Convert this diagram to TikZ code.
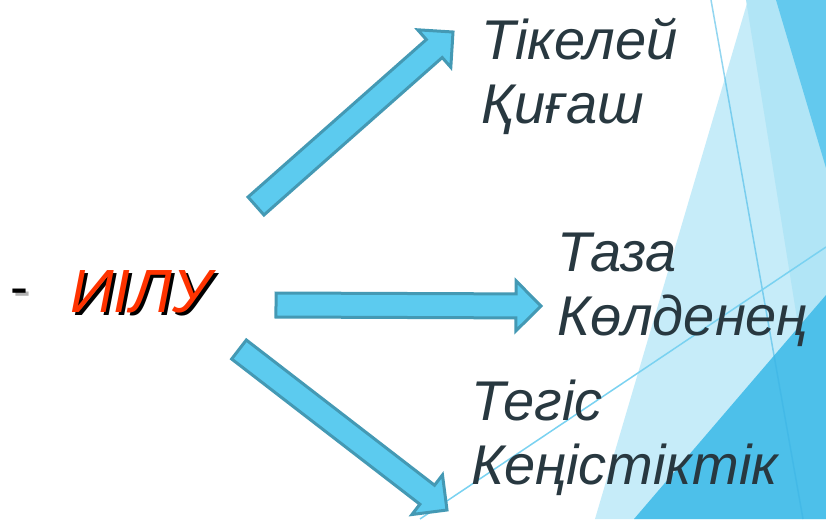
\documentclass[tikz,border=0pt]{standalone}
\usepackage{fontspec}
\setmainfont{Liberation Sans}
\usetikzlibrary{calc}

\definecolor{palefacet}{HTML}{C6ECF9}
\definecolor{lightfacet}{HTML}{B1E5F6}
\definecolor{midfacet}{HTML}{63C9EE}
\definecolor{deepfacet}{HTML}{4DC0EA}
\definecolor{thinfacet}{HTML}{7AD2F1}
\definecolor{linefacet}{HTML}{3BB5E5}
\definecolor{arrowfill}{HTML}{5CCBEF}
\definecolor{arrowedge}{HTML}{4499B4}
\definecolor{labeltext}{HTML}{283840}
\definecolor{titlered}{HTML}{FF3300}

% block arrow from tail coordinate #1 to tip coordinate #2
\newcommand\blockarrow[2]{%
  \coordinate (#2-base) at ($(#2)!25pt!(#1)$);
  \draw[arrowbody]
    ($(#1)!12pt!90:(#2)$) -- ($(#2-base)!12pt!90:(#2)$) --
    ($(#2-base)!25pt!90:(#2)$) -- (#2) --
    ($(#2-base)!25pt!-90:(#2)$) -- ($(#2-base)!12pt!-90:(#2)$) --
    ($(#1)!12pt!-90:(#2)$) -- cycle;
}

\begin{document}
\begin{tikzpicture}[x=1pt,y=-1pt,
  arrowbody/.style={fill=arrowfill,draw=arrowedge,line width=3pt,line join=miter},
  termtext/.style={anchor=base west,inner sep=0pt,align=left,text=labeltext,
    font=\fontsize{56}{64}\selectfont\itshape},
  titletext/.style={anchor=base west,inner sep=0pt,
    font=\fontsize{61}{61}\selectfont\itshape},
  hyphenmark/.style={anchor=base west,inner sep=0pt,
    font=\fontsize{54}{54}\selectfont}]
\useasboundingbox (0,0) rectangle (826,519);
\fill[white] (0,0) rectangle (826,519);

% facets on the right side
\fill[palefacet] (748,0) -- (826,0) -- (826,519) -- (595,519) -- cycle;
\fill[lightfacet] (746,0) -- (826,0) -- (826,500) -- cycle;
\fill[midfacet] (776,0) -- (826,0) -- (826,168) -- cycle;
\fill[deepfacet] (826,295) -- (826,519) -- (634,519) -- cycle;
\draw[linefacet,opacity=0.55,line width=1.5pt] (711,0) -- (803,519);
\draw[thinfacet,line width=1.5pt] (826,247) -- (420,519);

% left-hand term with its shadow
\node[hyphenmark,text=black!30] at (13,308) {-};
\node[hyphenmark,text=black] (dashmark) at (10,305) {-};
\node[titletext,text=black] at (73,315) {ИІЛУ};
\node[titletext,text=titlered] (main) at (70,312) {ИІЛУ};

% the three groups of terms (anchored on the baseline of the second line)
\node[termtext] (top) at (481,123) {Тікелей\\Қиғаш};
\node[termtext] (mid) at (557,335) {Таза\\Көлденең};
\node[termtext] (low) at (471,484) {Тегіс\\Кеңістіктік};

% arrows
\coordinate (a1t) at (256,206);
\coordinate (a1p) at (453,32);
\coordinate (a2t) at (276,305);
\coordinate (a2p) at (541,306);
\coordinate (a3t) at (239,349.5);
\coordinate (a3p) at (447,510);
\blockarrow{a1t}{a1p}
\blockarrow{a2t}{a2p}
\blockarrow{a3t}{a3p}
\end{tikzpicture}
\end{document}
